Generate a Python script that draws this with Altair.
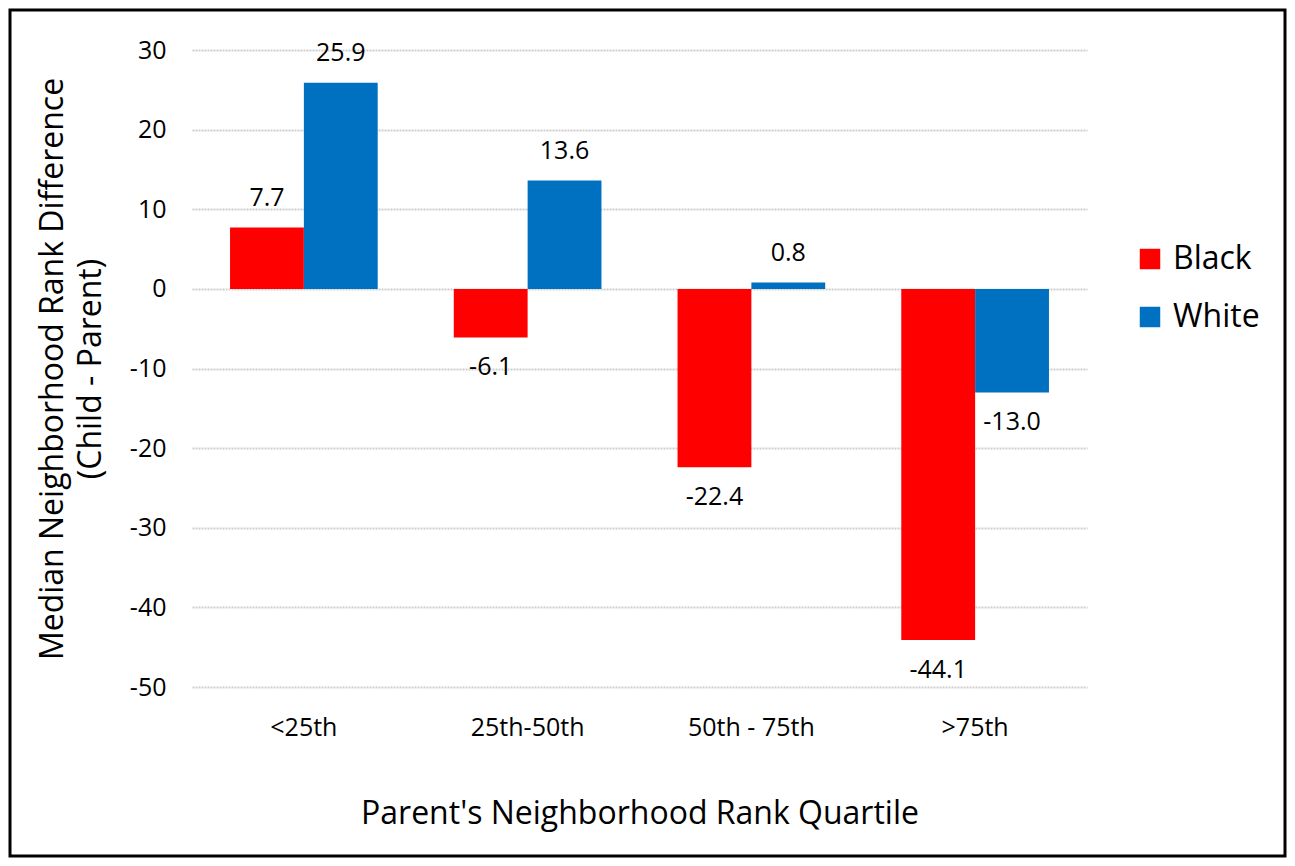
import altair as alt
import pandas as pd

categories = ["<25th", "25th-50th", "50th - 75th", ">75th"]
black_vals = [7.7, -6.1, -22.4, -44.1]
white_vals = [25.9, 13.6, 0.8, -13.0]
races = ["Black", "White"]
colors = ["#FF0000", "#0070C0"]

rows = []
for c, b, w in zip(categories, black_vals, white_vals):
    rows.append({"Quartile": c, "Race": "Black", "Value": b})
    rows.append({"Quartile": c, "Race": "White", "Value": w})
df = pd.DataFrame(rows)
df["Label"] = df["Value"].map(lambda v: f"{v:.1f}")

FONT = "Open Sans"
W, H = 895, 637
TICK = 25
TITLE = 32

x = alt.X("Quartile:N", sort=categories,
          scale=alt.Scale(paddingInner=0.34, paddingOuter=0.17),
          axis=alt.Axis(title="Parent's Neighborhood Rank Quartile", labelAngle=0,
                        labelFontSize=TICK, labelPadding=28, titleFontSize=TITLE,
                        titlePadding=58, domain=False, ticks=False, grid=False,
                        labelColor="#000", titleColor="#000", titleFontWeight="normal"))
y = alt.Y("Value:Q", scale=alt.Scale(domain=[-50, 30], nice=False),
          axis=alt.Axis(title=["Median Neighborhood Rank Difference", "(Child - Parent)"],
                        values=list(range(-50, 31, 10)), labelFontSize=TICK, labelPadding=26,
                        labelExpr="replace(datum.label, '\u2212', '-')",
                        titleFontSize=TITLE, titlePadding=22, titleLineHeight=38,
                        domain=False, ticks=False,
                        gridColor="#cfcfcf", gridWidth=2, gridDash=[2, 1],
                        labelColor="#000", titleColor="#000", titleFontWeight="normal"))
xoff = alt.XOffset("Race:N", sort=races)

bars = alt.Chart(df).mark_bar().encode(
    x=x, y=y, xOffset=xoff,
    color=alt.Color("Race:N", sort=races, scale=alt.Scale(domain=races, range=colors),
                    legend=alt.Legend(title=None, orient="none", legendX=942, legendY=193,
                                      symbolType="square", symbolSize=420, labelFontSize=TITLE,
                                      rowPadding=26, symbolStrokeWidth=0, labelOffset=7,
                                      labelColor="#000")),
)

pos = alt.Chart(df).transform_filter("datum.Value >= 0").mark_text(
    fontSize=TICK, dy=-30, font=FONT, color="#000").encode(
    x=alt.X("Quartile:N", sort=categories), y="Value:Q", xOffset=xoff, text="Label:N")
neg = alt.Chart(df).transform_filter("datum.Value < 0").mark_text(
    fontSize=TICK, dy=30, font=FONT, color="#000").encode(
    x=alt.X("Quartile:N", sort=categories), y="Value:Q", xOffset=xoff, text="Label:N")

border = alt.Chart(pd.DataFrame({"a": [0]})).mark_rect(
    fill=None, stroke="#000", strokeWidth=3).encode(
    x=alt.value(-182), x2=alt.value(W + 198), y=alt.value(-40), y2=alt.value(H + 169))

chart = alt.layer(bars, pos, neg, border).properties(
    width=W, height=H,
    autosize=alt.AutoSizeParams(type="none"),
    padding={"left": 184, "top": 42, "right": 200, "bottom": 171},
).configure(font=FONT).configure_view(stroke="transparent", strokeWidth=0)

chart.save("out.html", embed_options={"renderer": "svg", "actions": False})
